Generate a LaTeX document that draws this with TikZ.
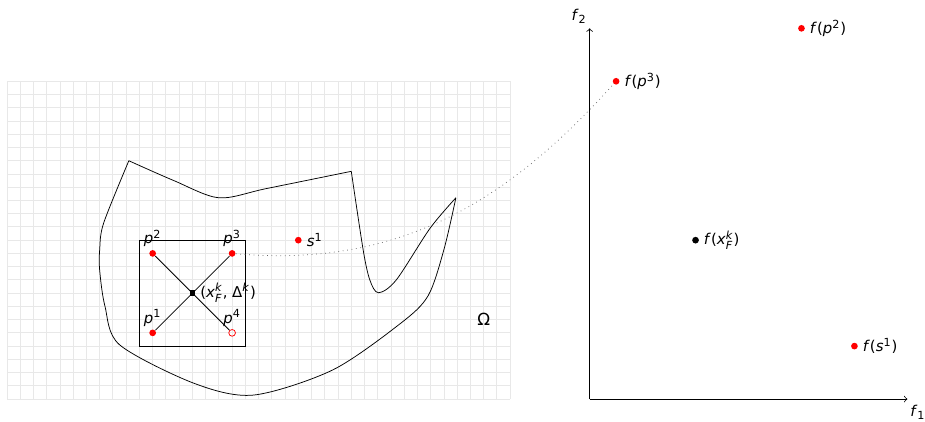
\documentclass[tikz,border=0pt]{standalone}
\usepackage{amsmath}
\usepackage{fontspec}
\setmainfont{DejaVu Sans}
\usepackage{tikz}
\usetikzlibrary{positioning}

% lettere oblique e indici nel font del testo
\newcommand{\vi}[1]{\textit{#1}}
\newcommand{\up}[1]{$^{\text{#1}}$}
\newcommand{\updn}[2]{$^{\text{#1}}_{\text{#2}}$}

\tikzset{
  gridline/.style={draw=black!9, line width=0.5pt, step=0.25cm},
  sample/.style={circle, fill=red, inner sep=0pt, minimum size=3.6pt},
  poll/.style={circle, draw=red, inner sep=0pt, minimum size=3.6pt},
  incumbent/.style={rectangle, fill=black, inner sep=0pt, minimum size=3pt},
  image/.style={circle, fill=black, inner sep=0pt, minimum size=3.6pt}
}

\begin{document}
\begin{tikzpicture}[x=0.25cm,y=0.25cm,font=\fontsize{8pt}{9.5pt}\selectfont]
        \useasboundingbox (-0.53,-1.66) rectangle (69.33,30.14);
        % Griglia
        \draw[gridline] (0,0) grid (38,24);
        % Dominio Omega
        \draw plot[smooth] coordinates {(9.2,18) (12.6,16.5) (16,15.2) (19.6,15.9) (26,17.2)};
        \draw plot[smooth, tension=0.5] coordinates {(26,17.2) (26.9,11.25) (27.4,9.0) (28.05,8.03) (29.4,9.0) (31.95,12.9) (33.9,15.2)};
        \draw plot[smooth] coordinates {(33.9,15.2) (33.0,11.3) (31.8,7.8) (29.7,5.7) (24.6,2.2) (18.6,0.3) (14.1,1.2) (8.5,4.1) (7.4,7.0) (7.0,9.7) (7.0,11.3) (7.3,13.3) (9.2,18)};
        \node (omega) at (36,6) {\fontsize{9pt}{10pt}\selectfont Ω};
        % Cornice
        \draw (10,4) rectangle (18,12);
        % Punti di poll
        \node[incumbent] (xk) at (14,8) {};
        \node[sample] (p1) at (11,5) {};
        \node[sample] (p2) at (11,11) {};
        \node[sample] (p3) at (17,11) {};
        \node[poll] (p4) at (17,5) {};
        \draw (p1) -- (p3);
        \draw (p2) -- (p4);
        \node[above=-2pt of p1] (lp1) {\vi{p}\up{1}};
        \node[above=-2pt of p2] (lp2) {\vi{p}\up{2}};
        \node[above=-2pt of p3] (lp3) {\vi{p}\up{3}};
        \node[above=-2pt of p4] (lp4) {\vi{p}\up{4}};
        \node[right=-1pt of xk] (lxk) {(\vi{x}\updn{\vi{k}}{\vi{F}}, Δ\up{\vi{k}})};
        % Punto s1
        \node[sample] (s1) at (22,12) {};
        \node[right=-1pt of s1] (ls1) {\vi{s}\up{1}};
        % Assi f1 e f2
        \coordinate (o) at (44,0);
        \coordinate (xend) at (68,0);
        \coordinate (yend) at (44,28);
        \draw[->] (o) -- (xend) node[below right=0pt and -2pt] (lf1) {\vi{f}$_{\text{1}}$};
        \draw[->] (o) -- (yend) node[above left=-1pt and -2pt] (lf2) {\vi{f}$_{\text{2}}$};
        % Immagini
        \node[sample] (fp2) at (60,28) {};
        \node[sample] (fp3) at (46,24) {};
        \node[image] (fxk) at (52,12) {};
        \node[sample] (fs1) at (64,4) {};
        \node[right=-1pt of fp2] (lfp2) {\vi{f}(\vi{p}\up{2})};
        \node[right=-1pt of fp3] (lfp3) {\vi{f}(\vi{p}\up{3})};
        \node[right=-1pt of fxk] (lfxk) {\vi{f}(\vi{x}\updn{\vi{k}}{\vi{F}})};
        \node[right=-1pt of fs1] (lfs1) {\vi{f}(\vi{s}\up{1})};
        % Mappa
        \draw[dotted, black!60] (p3) to[out=-5,in=228] (fp3);
    \end{tikzpicture}
\end{document}
